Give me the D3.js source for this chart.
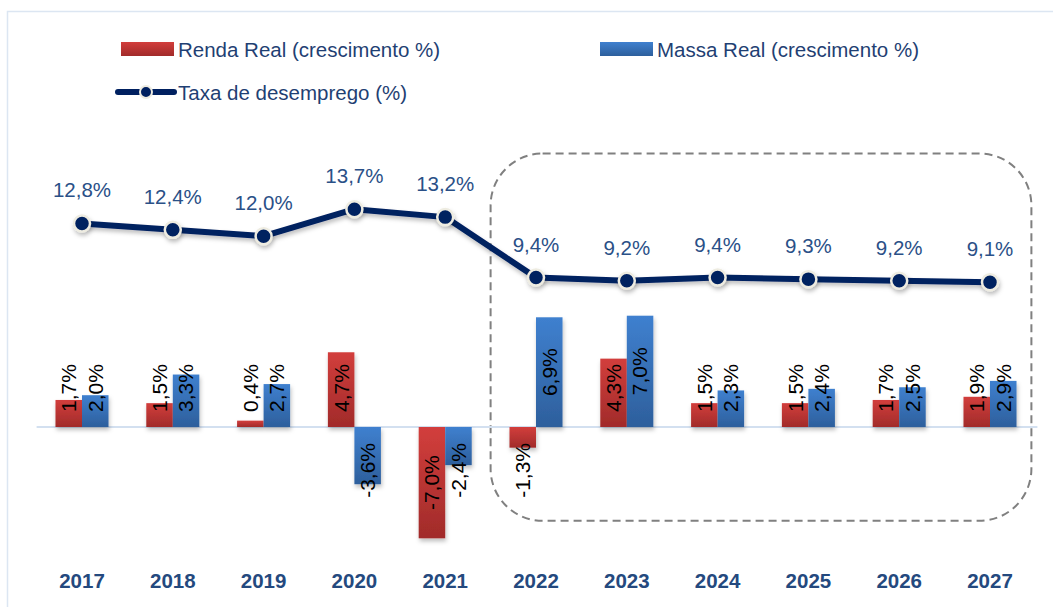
<!DOCTYPE html>
<html>
<head>
<meta charset="utf-8">
<script src="https://cdn.jsdelivr.net/npm/d3@7"></script>
<style>
  html, body { margin: 0; padding: 0; background: #fff; }
  svg { display: block; font-family: "Liberation Sans", Arial, sans-serif; }
</style>
</head>
<body>
<div id="chart"></div>
<script>
// Data
const years = ["2017", "2018", "2019", "2020", "2021", "2022", "2023", "2024", "2025", "2026", "2027"];
const rendaReal = [1.7, 1.5, 0.4, 4.7, -7.0, -1.3, 4.3, 1.5, 1.5, 1.7, 1.9];
const massaReal = [2.0, 3.3, 2.7, -3.6, -2.4, 6.9, 7.0, 2.3, 2.4, 2.5, 2.9];
const desemprego = [12.8, 12.4, 12.0, 13.7, 13.2, 9.4, 9.2, 9.4, 9.3, 9.2, 9.1];

const seriesNames = ["Renda Real (crescimento %)", "Massa Real (crescimento %)", "Taxa de desemprego (%)"];
// projection box: first/last year and value extent
const boxYears = ["2022", "2027"];
const boxValues = [17.2, -5.9];

const width = 1053, height = 607;
const navy = "#002060";
const labelBlue = "#2a5087";
// pt-BR style: comma decimal, plain hyphen for minus
const fmt = v => d3.format(".1f")(v).replace("\u2212", "-").replace(".", ",") + "%";

const svg = d3.select("#chart").append("svg")
    .attr("width", width)
    .attr("height", height);

const defs = svg.append("defs");

// Gradients for bars
function addGradient(id, top, bottom) {
    const g = defs.append("linearGradient")
        .attr("id", id)
        .attr("x1", 0).attr("y1", 0).attr("x2", 0).attr("y2", 1);
    g.append("stop").attr("offset", "0%").attr("stop-color", top);
    g.append("stop").attr("offset", "100%").attr("stop-color", bottom);
}
addGradient("gradRed", "#d23e3c", "#a12b2a");
addGradient("gradBlue", "#3f80cf", "#2d5f9c");

const shadow = defs.append("filter").attr("id", "shadow")
    .attr("x", "-30%").attr("y", "-30%").attr("width", "160%").attr("height", "160%");
shadow.append("feDropShadow")
    .attr("dx", 1).attr("dy", 3).attr("stdDeviation", 2)
    .attr("flood-color", "#000").attr("flood-opacity", 0.25);

// Chart frame (light blue border)
svg.append("rect")
    .attr("x", 7.5).attr("y", 11.5)
    .attr("width", width + 10).attr("height", height + 10)
    .attr("fill", "none")
    .attr("stroke", "#dce6f2")
    .attr("stroke-width", 1.5);

// Scales
const x0 = d3.scaleBand()
    .domain(years)
    .range([36.6, 1035.4])
    .paddingInner(0.416)
    .paddingOuter(0.208);

const x1 = d3.scaleBand()
    .domain(["renda", "massa"])
    .range([0, x0.bandwidth()]);

const y = d3.scaleLinear()
    .domain([-8, 18])
    .range([427 + 8 * 15.9, 427 - 18 * 15.9]);

const cx = d => x0(d) + x0.bandwidth() / 2;

// Projection box (dashed, rounded)
const bx0 = x0(boxYears[0]) - x0.step() * x0.paddingInner() / 2;
const bx1 = x0(boxYears[1]) + x0.bandwidth() + x0.step() * x0.paddingInner() / 2 - 4;
svg.append("rect")
    .attr("x", bx0)
    .attr("y", y(boxValues[0]))
    .attr("width", bx1 - bx0)
    .attr("height", y(boxValues[1]) - y(boxValues[0]))
    .attr("rx", 52).attr("ry", 52)
    .attr("fill", "none")
    .attr("stroke", "#808080")
    .attr("stroke-width", 2)
    .attr("stroke-dasharray", "8,5");

// Zero line
svg.append("line")
    .attr("x1", x0.range()[0]).attr("x2", x0.range()[1] + 2)
    .attr("y1", y(0)).attr("y2", y(0))
    .attr("stroke", "#d3e0f0")
    .attr("stroke-width", 2);

// Bars
const barData = years.flatMap((yr, i) => [
    { year: yr, key: "renda", value: rendaReal[i] },
    { year: yr, key: "massa", value: massaReal[i] }
]);

const bars = svg.append("g").attr("filter", "url(#shadow)");
bars.selectAll("rect")
    .data(barData)
    .enter().append("rect")
    .attr("x", d => x0(d.year) + x1(d.key))
    .attr("width", x1.bandwidth())
    .attr("y", d => y(Math.max(0, d.value)))
    .attr("height", d => Math.abs(y(d.value) - y(0)))
    .attr("fill", d => d.key === "renda" ? "url(#gradRed)" : "url(#gradBlue)");

// Bar labels (rotated, centred on bar but kept clear of the base)
const barLabels = svg.append("g");
barLabels.selectAll("text")
    .data(barData)
    .enter().append("text")
    .attr("text-anchor", "middle")
    .attr("dy", "0.35em")
    .style("font-size", "21px")
    .attr("fill", "#000")
    .text(d => fmt(d.value))
    .each(function (d) {
        const len = this.getComputedTextLength();
        const mid = (y(d.value) + y(0)) / 2;
        let cy;
        if (d.value >= 0) cy = Math.min(mid, y(0) - 15 - len / 2);
        else cy = Math.max(mid, y(0) + 16 + len / 2);
        const bx = x0(d.year) + x1(d.key) + x1.bandwidth() / 2;
        d3.select(this).attr("transform", `translate(${bx},${cy}) rotate(-90)`);
    });

// Unemployment line
const line = d3.line()
    .x((d, i) => cx(years[i]))
    .y(d => y(d));

svg.append("path")
    .datum(desemprego)
    .attr("d", line)
    .attr("fill", "none")
    .attr("stroke", navy)
    .attr("stroke-width", 6)
    .attr("stroke-linejoin", "round")
    .attr("filter", "url(#shadow)");

svg.append("g")
    .attr("filter", "url(#shadow)")
    .selectAll("circle")
    .data(desemprego)
    .enter().append("circle")
    .attr("cx", (d, i) => cx(years[i]))
    .attr("cy", d => y(d))
    .attr("r", 8)
    .attr("fill", navy)
    .attr("stroke", "#eeece1")
    .attr("stroke-width", 2.5);

svg.append("g")
    .selectAll("text")
    .data(desemprego)
    .enter().append("text")
    .attr("x", (d, i) => cx(years[i]))
    .attr("y", d => y(d) - 26)
    .attr("text-anchor", "middle")
    .style("font-size", "20.5px")
    .attr("fill", labelBlue)
    .text(d => fmt(d));

// X axis (year labels only)
const xAxis = svg.append("g")
    .attr("transform", `translate(0,${573})`)
    .call(d3.axisBottom(x0).tickSize(0).tickPadding(0));
xAxis.select(".domain").remove();
xAxis.selectAll("text")
    .attr("dy", "0.71em")
    .style("font-family", "'Liberation Sans', Arial, sans-serif")
    .style("font-size", "20.5px")
    .style("font-weight", "bold")
    .attr("fill", "#24497e");

// Legend
const legend = svg.append("g").style("font-size", "20.5px");
const legendItems = [
    { name: seriesNames[0], type: "bar", fill: "url(#gradRed)", x: 121, y: 42 },
    { name: seriesNames[1], type: "bar", fill: "url(#gradBlue)", x: 600, y: 42 },
    { name: seriesNames[2], type: "line", x: 121, y: 85 }
];
legendItems.forEach(item => {
    const g = legend.append("g").attr("transform", `translate(${item.x},${item.y})`);
    if (item.type === "bar") {
        g.append("rect").attr("width", 53).attr("height", 14).attr("fill", item.fill);
    } else {
        g.append("line").attr("x1", -3).attr("x2", 53).attr("y1", 7).attr("y2", 7)
            .attr("stroke", navy).attr("stroke-width", 6).attr("stroke-linecap", "round");
        g.append("circle").attr("cx", 25).attr("cy", 7).attr("r", 6)
            .attr("fill", navy).attr("stroke", "#eeece1").attr("stroke-width", 2);
    }
    g.append("text")
        .attr("x", 57)
        .attr("y", 15)
        .attr("fill", "#1f3f73")
        .text(item.name);
});
</script>
</body>
</html>
